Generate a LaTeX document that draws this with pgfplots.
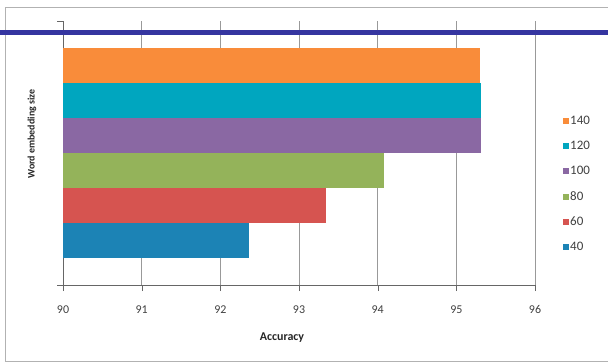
\documentclass[border=0pt]{standalone}
\usepackage{pgfplots}
\pgfplotsset{compat=1.18}
\usepackage{fontspec}
\setmainfont{Carlito}
\definecolor{cOrange}{HTML}{F98C3A}
\definecolor{cTeal}{HTML}{00A6BF}
\definecolor{cPurple}{HTML}{8A68A3}
\definecolor{cGreen}{HTML}{94B35A}
\definecolor{cRed}{HTML}{D65450}
\definecolor{cBlue}{HTML}{1C83B5}
\definecolor{cLine}{HTML}{3535A0}
\begin{document}
\begin{tikzpicture}[x=1bp,y=1bp]
\path[use as bounding box] (0,0) rectangle (608,362);
\draw[gray!60] (612,355) -- (5,355) -- (5,1) -- (612,1);
\begin{axis}[
  at={(63bp,77bp)}, anchor=south west,
  scale only axis, width=472bp, height=264bp,
  xmin=90, xmax=96, xtick={90,91,...,96},
  ymin=0, ymax=264, ytick={0,264}, yticklabels={},
  axis lines*=left,
  axis line style={gray!80!black},
  xmajorgrids, grid style={gray!80, line width=0.6pt},
  tick align=outside, major tick length=6bp,
  tick style={gray!80!black},
  /pgf/number format/assume math mode=true,
  ticklabel style={font=\fontsize{12}{14}\selectfont, text=black!75},
  xticklabel style={yshift=-11bp},
  xlabel={Accuracy},
  xlabel style={at={(axis description cs:0.464,-0.2)}, anchor=center, font=\fontsize{12}{14}\selectfont\bfseries, text=black!85},
  ylabel={Word embedding size},
  ylabel style={at={(axis description cs:-0.0657,0.572)}, anchor=center, font=\fontsize{10}{12}\selectfont\bfseries, text=black!85},
  xbar, bar width=35, bar shift=0pt,
  reverse legend,
  legend style={at={(axis description cs:1.053,0.652)}, anchor=north west, draw=none, fill=none,
    font=\fontsize{13}{15}\selectfont, text=black!75, row sep=13.2bp,
    nodes={inner sep=1bp}},
  legend cell align=left,
  legend image code/.code={\fill[#1] (0bp,-3bp) rectangle (6bp,3bp);},
]
\addplot[fill=cBlue, draw=none] coordinates {(92.36,44.5)};
\addplot[fill=cRed, draw=none] coordinates {(93.34,79.5)};
\addplot[fill=cGreen, draw=none] coordinates {(94.08,114.5)};
\addplot[fill=cPurple, draw=none] coordinates {(95.31,149.5)};
\addplot[fill=cTeal, draw=none] coordinates {(95.31,184.5)};
\addplot[fill=cOrange, draw=none] coordinates {(95.30,219.5)};
\legend{40,60,80,100,120,140}
\end{axis}
\fill[cLine] (0,327) rectangle (608,332.5);
\end{tikzpicture}
\end{document}
